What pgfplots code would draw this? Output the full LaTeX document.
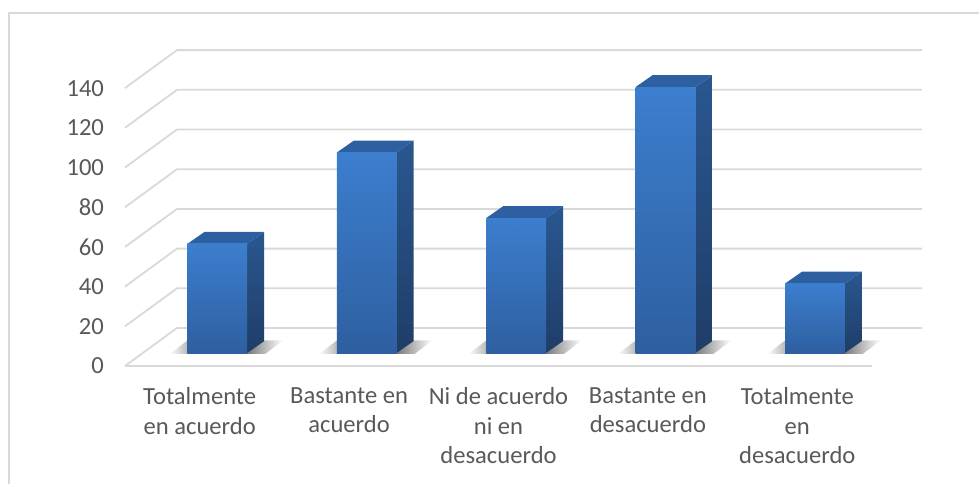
\documentclass[border=0pt]{standalone}
\usepackage{pgfplots}
\usepackage{pgfplotstable}
\pgfplotsset{compat=1.18}
\usepackage{fontspec}
\setmainfont{Carlito}
\definecolor{txt}{HTML}{595959}
\definecolor{gridc}{HTML}{D9D9D9}
\definecolor{frontT}{HTML}{3C7ECE}
\definecolor{frontB}{HTML}{2E5FA0}
\definecolor{sideT}{HTML}{2A5790}
\definecolor{sideB}{HTML}{1F3D68}
\definecolor{topc}{HTML}{2D5FA1}
\pgfplotstableread{
x v
0 55
1 101
2 68
3 134
4 35
}\datatable
\begin{document}
\begin{tikzpicture}[font=\fontsize{12.3}{14.75}\selectfont]
\path[use as bounding box] (0,0) rectangle (489.5pt,241.5pt);
\draw[gridc, line width=0.75pt] (4.5pt,-2pt) -- (4.5pt,235pt) -- (492pt,235pt);
\begin{axis}[
  at={(62.5pt,58.5pt)}, anchor=south west,
  scale only axis, width=373.5pt, height=138.95pt,
  xmin=-0.5, xmax=4.5, ymin=0, ymax=140,
  clip=false,
  axis line style={draw=none},
  major tick length=0pt,
  ytick={0,20,...,140},
  xtick={0,1,2,3,4},
  xticklabels={{Totalmente\\en acuerdo},{Bastante en\\acuerdo},{Ni de acuerdo\\ni en\\desacuerdo},{Bastante en\\desacuerdo},{Totalmente\\en\\desacuerdo}},
  xticklabel style={align=center, anchor=north, yshift=-7.3pt, text=txt},
  yticklabel style={anchor=east, xshift=-7pt, text=txt},
  tick label style={font=\fontsize{12.3}{14.75}\selectfont},
  /pgf/number format/assume math mode=true,
]
\pgfplotsinvokeforeach{0,20,...,140}{
  \draw[gridc, line width=0.9pt] (axis cs:-0.5,#1) -- (axis cs:-0.152,#1+19.14) -- (axis cs:4.835,#1+19.14);
}
\draw[gridc, line width=0.9pt] (axis cs:-0.5,0) -- (axis cs:4.5,0);
\addplot[scatter, only marks, mark=*, mark size=0pt,
  scatter/use mapped color={draw=none, fill=none},
  visualization depends on={rawy \as \val},
  scatter/@pre marker code/.append code={%
    \pgfmathsetmacro\bb{6.55-\val}%
    \pgfmathsetmacro\bs{\bb+6}%
    \pgfmathsetmacro\bsa{\bb-0.5}%
    \pgfmathsetmacro\bsb{\bb+6.3}%
    \shade[draw=none, left color=white, right color=black!55] (axis direction cs:-0.32,\bsa) -- (axis direction cs:-0.19,\bsa) -- (axis direction cs:-0.08,\bsb) -- (axis direction cs:-0.2,\bsb) -- cycle;
    \shade[draw=none, left color=black!55, right color=white] (axis direction cs:0.19,\bsa) -- (axis direction cs:0.32,\bsa) -- (axis direction cs:0.44,\bsb) -- (axis direction cs:0.30,\bsb) -- cycle;
    \shade[draw=none, top color=sideT, bottom color=sideB] (axis direction cs:0.2,\bb) -- (axis direction cs:0.2,6.55) -- (axis direction cs:0.314,12.55) -- (axis direction cs:0.314,\bs) -- cycle;
    \fill[draw=none, topc] (axis direction cs:-0.2,6.55) -- (axis direction cs:0.2,6.55) -- (axis direction cs:0.314,12.55) -- (axis direction cs:-0.086,12.55) -- cycle;
    \shade[draw=none, top color=frontT, bottom color=frontB] (axis direction cs:-0.2,\bb) rectangle (axis direction cs:0.2,6.55);
  },
] table[x expr=\thisrow{x}+0.118, y=v] {\datatable};
\end{axis}
\end{tikzpicture}
\end{document}
